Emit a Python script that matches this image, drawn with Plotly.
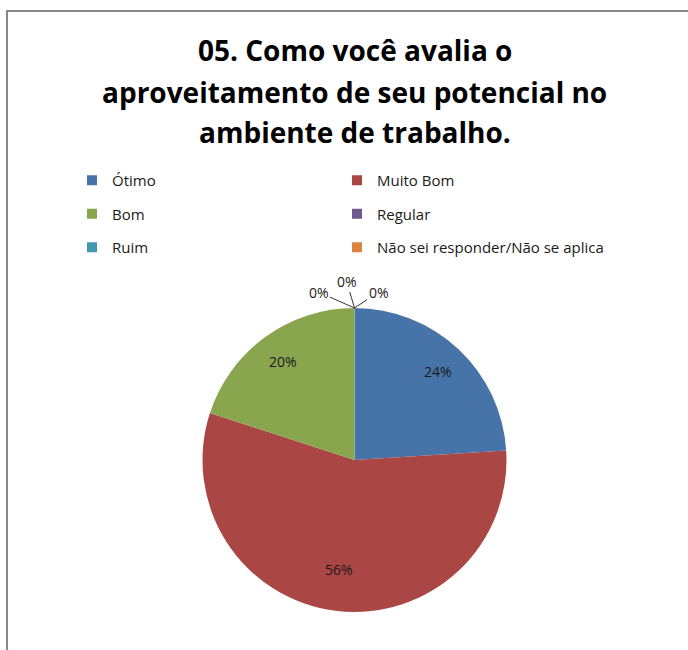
import math
import plotly.graph_objects as go

# dados do gráfico
categorias = ["Ótimo", "Muito Bom", "Bom", "Regular", "Ruim", "Não sei responder/Não se aplica"]
percentuais = [24, 56, 20, 0, 0, 0]
cores = ["#4673A8", "#AA4643", "#89A54E", "#71588F", "#4198AF", "#DB843D"]
titulo = ["05. Como você avalia o", "aproveitamento de seu potencial no", "ambiente de trabalho."]

W, H = 688, 650
fonte = "Open Sans"

# posição da pizza (pixels)
cx, cy, raio = 354.5, 460, 152
dom_x = [(cx - raio) / W, (cx + raio) / W]
dom_y = [(H - cy - raio) / H, (H - cy + raio) / H]

fig = go.Figure()

fig.add_trace(go.Pie(
    labels=categorias,
    values=percentuais,
    marker=dict(colors=cores, line=dict(width=0)),
    sort=False,
    direction="clockwise",
    rotation=0,
    textinfo="none",
    domain=dict(x=dom_x, y=dom_y),
    showlegend=False,
    hoverinfo="label+percent",
))

# legenda em duas colunas (entradas fantasmas)
for i, (nome, cor) in enumerate(zip(categorias, cores)):
    fig.add_trace(go.Scatter(
        x=[None], y=[None], mode="markers", name=nome,
        marker=dict(symbol="square", size=10, color=cor),
        legendgroup=nome,
        legend="legend" if i % 2 == 0 else "legend2",
        hoverinfo="skip",
    ))

leg_comum = dict(
    font=dict(family=fonte, size=15, color="#1a1a1a"),
    bgcolor="rgba(0,0,0,0)",
    tracegroupgap=11,
    itemwidth=30,
    yanchor="top",
    xanchor="left",
    y=(H - 164) / H,
)

anot = []

# rótulos de porcentagem no meio de cada fatia (estilo Excel)
total = sum(percentuais)
acum = 0
for v in percentuais:
    meio = (acum + v / 2) / total * 2 * math.pi
    acum += v
    if v == 0:
        continue
    r = 0.8 * raio
    px = cx + r * math.sin(meio)
    py = cy - r * math.cos(meio)
    anot.append(dict(
        x=px / W, y=(H - py) / H, xref="paper", yref="paper",
        text="%d%%" % v, showarrow=False,
        font=dict(family=fonte, size=14, color="#1a1a1a"),
    ))

# rótulos 0% com linhas de chamada
topo_x = cx / W
topo_y = (H - cy + raio) / H
for v, ax, ay in zip([p for p in percentuais if p == 0], [-36, -8, 24], [-16, -27, -16]):
    anot.append(dict(
        x=topo_x, y=topo_y, xref="paper", yref="paper",
        text="%d%%" % v, showarrow=True, arrowhead=0, arrowwidth=1, arrowcolor="#333",
        ax=ax, ay=ay, standoff=0,
        font=dict(family=fonte, size=14, color="#1a1a1a"),
    ))

# título em três linhas
for linha, yc in zip(titulo, [50, 92, 132]):
    anot.append(dict(
        x=cx / W, y=(H - yc) / H, xref="paper", yref="paper",
        text="<b>" + linha + "</b>", showarrow=False,
        xanchor="center", yanchor="middle",
        font=dict(family=fonte, size=28, color="#000000"),
    ))

fig.update_layout(
    width=W, height=H,
    margin=dict(l=0, r=0, t=0, b=0),
    paper_bgcolor="white",
    plot_bgcolor="white",
    xaxis=dict(visible=False),
    yaxis=dict(visible=False),
    legend=dict(x=72 / W, **leg_comum),
    legend2=dict(x=337 / W, **leg_comum),
    annotations=anot,
    shapes=[dict(
        type="path", xref="paper", yref="paper",
        path="M 0.0102,0 L 0.0102,%.4f L 1,%.4f" % ((H - 11) / H, (H - 11) / H),
        line=dict(color="#888888", width=2),
    )],
)

fig.write_html("out.html", config={"displayModeBar": False},
               post_script="document.body.style.margin='0';")
